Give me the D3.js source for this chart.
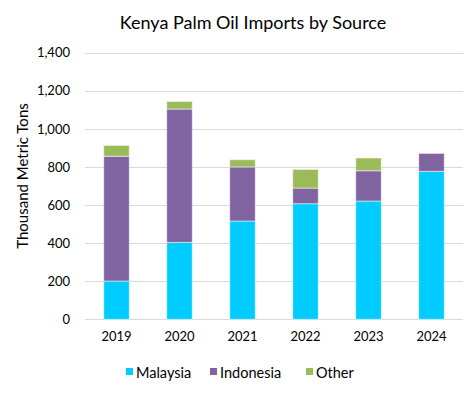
<!DOCTYPE html>
<html><head><meta charset="utf-8">
<script src="https://cdn.jsdelivr.net/npm/d3@7"></script>
<style>body{margin:0;background:#fff;} svg{display:block;font-family:Lato,"Open Sans",sans-serif;}</style>
</head><body>
<script>
const years = ["2019","2020","2021","2022","2023","2024"];
const malaysia = [201, 404, 516, 607, 621, 777];
const indonesia = [655, 700, 284, 82, 159, 94];
const other = [57, 40, 38, 98, 67, 0];
const seriesNames = ["Malaysia","Indonesia","Other"];
const colors = ["#00CCFF","#8064A2","#9BBB59"];
const yTicks = [0,200,400,600,800,1000,1200,1400];

const W=475,H=396;
const svg=d3.select("body").append("svg").attr("width",W).attr("height",H);
const x=d3.scaleBand().domain(years).range([85,463]).paddingInner(0.595).paddingOuter(0.2975);
const y=d3.scaleLinear().domain([0,1400]).range([319.3,52.7]);

const rows=years.map((yr,i)=>({year:yr,Malaysia:malaysia[i],Indonesia:indonesia[i],Other:other[i]}));
const stack=d3.stack().keys(seriesNames)(rows);

svg.append("g").selectAll("line").data(yTicks).join("line")
 .attr("x1",85).attr("x2",463).attr("y1",d=>Math.round(y(d))+0.5).attr("y2",d=>Math.round(y(d))+0.5)
 .attr("stroke","#d9d9d9").attr("stroke-width",1);

svg.append("g").selectAll("g").data(stack).join("g").attr("fill",(d,i)=>colors[i])
 .selectAll("rect").data(d=>d).join("rect")
 .attr("x",d=>x(d.data.year)).attr("width",x.bandwidth())
 .attr("y",d=>y(d[1])).attr("height",d=>Math.max(0,y(d[0])-y(d[1])))
 .attr("stroke","rgba(255,255,255,0.5)").attr("stroke-width",1);

const yAxis=svg.append("g").attr("transform","translate(85,0)")
 .call(d3.axisLeft(y).tickValues(yTicks).tickFormat(d3.format(",")).tickSize(0).tickPadding(15));
yAxis.select(".domain").remove();
yAxis.selectAll("text").attr("font-size",13).attr("fill","#000").attr("font-family","Lato,'Open Sans',sans-serif");

const xAxis=svg.append("g").attr("transform","translate(0,319.3)")
 .call(d3.axisBottom(x).tickSize(0).tickPadding(12));
xAxis.select(".domain").remove();
xAxis.selectAll("text").attr("font-size",13).attr("fill","#000").attr("font-family","Lato,'Open Sans',sans-serif");

svg.append("text").attr("x",253).attr("y",29).attr("text-anchor","middle")
 .attr("font-size",18).attr("fill","#000").text("Kenya Palm Oil Imports by Source");

svg.append("text").attr("transform","translate(28,176) rotate(-90)").attr("text-anchor","middle")
 .attr("font-size",15).attr("fill","#000").text("Thousand Metric Tons");

const legX=[126,210,306];
const leg=svg.append("g").selectAll("g").data(seriesNames).join("g")
 .attr("transform",(d,i)=>`translate(${legX[i]},368)`);
leg.append("rect").attr("width",7).attr("height",7).attr("fill",(d,i)=>colors[i]);
leg.append("text").attr("x",10).attr("y",10).attr("font-size",14.5).attr("fill","#000").text(d=>d);
</script>
</body></html>
